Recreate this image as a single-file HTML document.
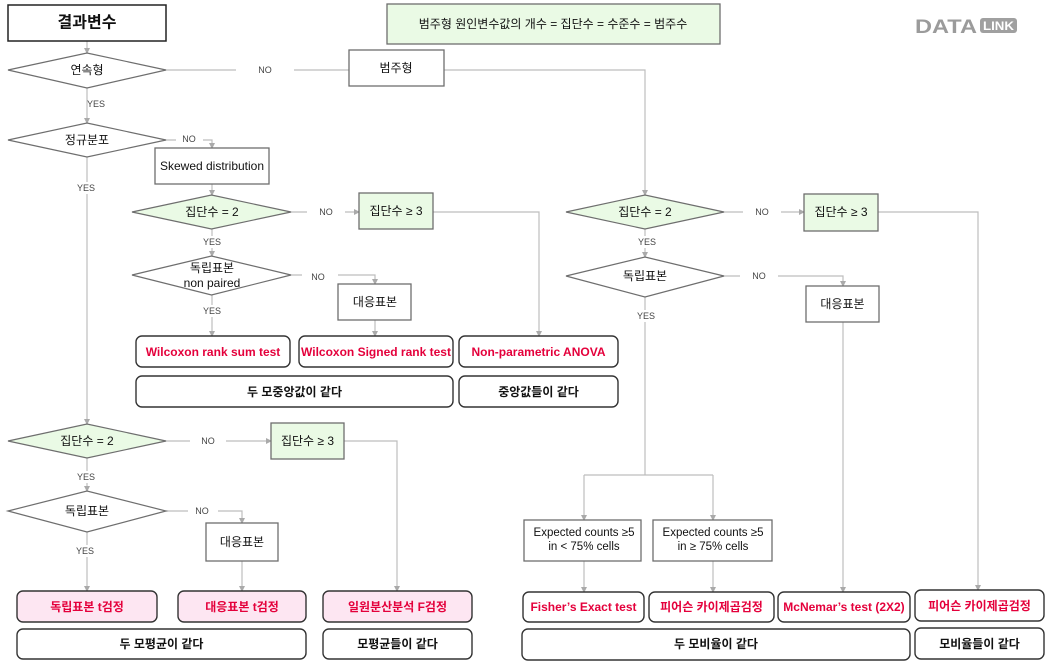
<!DOCTYPE html>
<html><head><meta charset="utf-8">
<style>
html,body{margin:0;padding:0;background:#fff;}
svg{display:block;}
text{font-family:"Liberation Sans","Noto Sans CJK KR",sans-serif;}
.n{font-size:12px;fill:#111;text-anchor:middle;dominant-baseline:central;}
.lbl{font-size:9px;fill:#444;text-anchor:middle;dominant-baseline:central;}
.r{font-size:12px;fill:#e4003b;font-weight:bold;text-anchor:middle;dominant-baseline:central;}
.b{font-size:12px;fill:#111;font-weight:bold;text-anchor:middle;dominant-baseline:central;}
.ln{stroke:#bdbdbd;stroke-width:1.2;fill:none;}
.bx{fill:#fff;stroke:#6e6e6e;stroke-width:1.3;}
.gb{fill:#eafae5;stroke:#6e6e6e;stroke-width:1.3;}
.dm{fill:#fff;stroke:#6e6e6e;stroke-width:1.2;}
.dg{fill:#eafae5;stroke:#6e6e6e;stroke-width:1.2;}
.rb{fill:#fff;stroke:#333;stroke-width:1.4;}
.pb{fill:#fde6f2;stroke:#333;stroke-width:1.4;}
.ah{fill:#aaa;}
.wb{fill:#fff;}
</style></head>
<body>
<svg width="1048" height="665" viewBox="0 0 1048 665" xmlns="http://www.w3.org/2000/svg">
<defs>
<marker id="a" markerWidth="6" markerHeight="6" refX="5" refY="3" orient="auto" markerUnits="userSpaceOnUse">
<path d="M0,0 L6,3 L0,6 z" fill="#aaa"/>
</marker>
</defs>

<!-- connectors -->
<g class="ln">
<path d="M87,41 V53" marker-end="url(#a)"/>
<path d="M166,70 H349"/>
<path d="M87,88 V123" marker-end="url(#a)"/>
<path d="M166,140 H212 V148" marker-end="url(#a)"/>
<path d="M87,157 V424" marker-end="url(#a)"/>
<path d="M212,184 V195" marker-end="url(#a)"/>
<path d="M291,212 H359" marker-end="url(#a)"/>
<path d="M433,212 H539 V336" marker-end="url(#a)"/>
<path d="M212,229 V256" marker-end="url(#a)"/>
<path d="M291,275 H375 V284" marker-end="url(#a)"/>
<path d="M212,295 V336" marker-end="url(#a)"/>
<path d="M375,320 V336" marker-end="url(#a)"/>

<path d="M444,70 H645 V195" marker-end="url(#a)"/>
<path d="M724,212 H804" marker-end="url(#a)"/>
<path d="M878,212 H978 V590" marker-end="url(#a)"/>
<path d="M645,229 V257" marker-end="url(#a)"/>
<path d="M724,276 H843 V286" marker-end="url(#a)"/>
<path d="M645,297 V475"/>
<path d="M584,475 H713"/>
<path d="M584,475 V520" marker-end="url(#a)"/>
<path d="M713,475 V520" marker-end="url(#a)"/>
<path d="M584,561 V592" marker-end="url(#a)"/>
<path d="M713,561 V592" marker-end="url(#a)"/>
<path d="M843,322 V592" marker-end="url(#a)"/>

<path d="M166,441 H271" marker-end="url(#a)"/>
<path d="M344,441 H397 V591" marker-end="url(#a)"/>
<path d="M87,458 V491" marker-end="url(#a)"/>
<path d="M166,511 H242 V523" marker-end="url(#a)"/>
<path d="M87,532 V591" marker-end="url(#a)"/>
<path d="M242,561 V591" marker-end="url(#a)"/>
</g>

<!-- connector labels -->
<rect class="wb" x="236" y="63" width="58" height="14"/><text class="lbl" x="265" y="70">NO</text>
<text class="lbl" x="96" y="104">YES</text>
<rect class="wb" x="176" y="133" width="27" height="13"/><text class="lbl" x="189" y="139">NO</text>
<rect class="wb" x="76" y="182" width="20" height="12"/><text class="lbl" x="86" y="188">YES</text>
<rect class="wb" x="307" y="206" width="38" height="13"/><text class="lbl" x="326" y="212">NO</text>
<rect class="wb" x="201" y="236" width="22" height="12"/><text class="lbl" x="212" y="242">YES</text>
<rect class="wb" x="302" y="269" width="36" height="13"/><text class="lbl" x="318" y="277">NO</text>
<rect class="wb" x="201" y="305" width="22" height="12"/><text class="lbl" x="212" y="311">YES</text>

<rect class="wb" x="743" y="206" width="38" height="13"/><text class="lbl" x="762" y="212">NO</text>
<rect class="wb" x="636" y="236" width="22" height="12"/><text class="lbl" x="647" y="242">YES</text>
<rect class="wb" x="740" y="270" width="38" height="13"/><text class="lbl" x="759" y="276">NO</text>
<rect class="wb" x="635" y="310" width="22" height="12"/><text class="lbl" x="646" y="316">YES</text>

<rect class="wb" x="190" y="435" width="36" height="13"/><text class="lbl" x="208" y="441">NO</text>
<rect class="wb" x="76" y="471" width="22" height="12"/><text class="lbl" x="86" y="477">YES</text>
<rect class="wb" x="188" y="505" width="30" height="13"/><text class="lbl" x="202" y="511">NO</text>
<rect class="wb" x="75" y="545" width="22" height="12"/><text class="lbl" x="85" y="551">YES</text>

<!-- top -->
<rect x="8" y="5" width="158" height="36" fill="#fff" stroke="#222" stroke-width="1.5"/>
<text class="b" x="87" y="23" style="font-size:16px">결과변수</text>

<rect class="gb" x="387" y="4" width="333" height="40"/>
<text class="n" x="553" y="24">범주형 원인변수값의 개수 = 집단수 = 수준수 = 범주수</text>

<!-- logo -->
<text x="915" y="33" textLength="62" lengthAdjust="spacingAndGlyphs" style="font-size:19px;fill:#9b9b9b;font-weight:bold;">DATA</text>
<rect x="980" y="18" width="37" height="15" rx="3" fill="#a0a0a0"/>
<text x="998.5" y="26" textLength="31" lengthAdjust="spacingAndGlyphs" style="font-size:12px;fill:#fff;font-weight:bold;text-anchor:middle;dominant-baseline:central;">LINK</text>

<polygon class="dm" points="8,70 87,53 166,70 87,88"/>
<text class="n" x="87" y="70">연속형</text>

<rect class="bx" x="349" y="50" width="95" height="36"/>
<text class="n" x="396" y="68">범주형</text>

<polygon class="dm" points="8,140 87,123 166,140 87,157"/>
<text class="n" x="87" y="140">정규분포</text>

<rect class="bx" x="155" y="148" width="114" height="36"/>
<text class="n" x="212" y="166">Skewed distribution</text>

<!-- middle-left nonparametric -->
<polygon class="dg" points="132,212 211.5,195 291,212 211.5,229"/>
<text class="n" x="212" y="212">집단수 = 2</text>

<rect class="gb" x="359" y="193" width="74" height="36"/>
<text class="n" x="396" y="211">집단수 ≥ 3</text>

<polygon class="dm" points="132,275 211.5,256 291,275 211.5,295"/>
<text class="n" x="212" y="268">독립표본</text>
<text class="n" x="212" y="283">non paired</text>

<rect class="bx" x="338" y="284" width="73" height="36"/>
<text class="n" x="375" y="302">대응표본</text>

<rect class="rb" x="136" y="336" width="154" height="31" rx="6"/>
<text class="r" x="213" y="352">Wilcoxon rank sum test</text>
<rect class="rb" x="299" y="336" width="154" height="31" rx="6"/>
<text class="r" x="376" y="352">Wilcoxon Signed rank test</text>
<rect class="rb" x="459" y="336" width="159" height="31" rx="6"/>
<text class="r" x="538.5" y="352">Non-parametric ANOVA</text>

<rect class="rb" x="136" y="376" width="317" height="31" rx="6"/>
<text class="b" x="294.5" y="392">두 모중앙값이 같다</text>
<rect class="rb" x="459" y="376" width="159" height="31" rx="6"/>
<text class="b" x="538.5" y="392">중앙값들이 같다</text>

<!-- lower-left parametric -->
<polygon class="dg" points="8,441 87,424 166,441 87,458"/>
<text class="n" x="87" y="441">집단수 = 2</text>

<rect class="gb" x="271" y="423" width="73" height="36"/>
<text class="n" x="307.5" y="441">집단수 ≥ 3</text>

<polygon class="dm" points="8,511 87,491 166,511 87,532"/>
<text class="n" x="87" y="511">독립표본</text>

<rect class="bx" x="206" y="523" width="72" height="38"/>
<text class="n" x="242" y="542">대응표본</text>

<rect class="pb" x="17" y="591" width="140" height="31" rx="6"/>
<text class="r" x="87" y="607">독립표본 t검정</text>
<rect class="pb" x="178" y="591" width="128" height="31" rx="6"/>
<text class="r" x="242" y="607">대응표본 t검정</text>
<rect class="pb" x="323" y="591" width="149" height="31" rx="6"/>
<text class="r" x="397.5" y="607">일원분산분석 F검정</text>

<rect class="rb" x="17" y="629" width="289" height="30" rx="6"/>
<text class="b" x="161.5" y="644">두 모평균이 같다</text>
<rect class="rb" x="323" y="629" width="149" height="30" rx="6"/>
<text class="b" x="397.5" y="644">모평균들이 같다</text>

<!-- right categorical -->
<polygon class="dg" points="566,212 645,195 724,212 645,229"/>
<text class="n" x="645" y="212">집단수 = 2</text>

<rect class="gb" x="804" y="194" width="74" height="37"/>
<text class="n" x="841" y="212">집단수 ≥ 3</text>

<polygon class="dm" points="566,276 645,257 724,276 645,297"/>
<text class="n" x="645" y="276">독립표본</text>

<rect class="bx" x="806" y="286" width="73" height="36"/>
<text class="n" x="842.5" y="304">대응표본</text>

<rect class="bx" x="524" y="520" width="117" height="41"/>
<text class="n" x="584" y="533" style="font-size:11.5px">Expected counts ≥5</text>
<text class="n" x="584" y="547" style="font-size:11.5px">in &lt; 75% cells</text>
<rect class="bx" x="653" y="520" width="119" height="41"/>
<text class="n" x="713" y="533" style="font-size:11.5px">Expected counts ≥5</text>
<text class="n" x="713" y="547" style="font-size:11.5px">in ≥ 75% cells</text>

<rect class="rb" x="523" y="592" width="121" height="30" rx="6"/>
<text class="r" x="583.5" y="607">Fisher’s Exact test</text>
<rect class="rb" x="649" y="592" width="125" height="30" rx="6"/>
<text class="r" x="711.5" y="607">피어슨 카이제곱검정</text>
<rect class="rb" x="778" y="592" width="132" height="30" rx="6"/>
<text class="r" x="844" y="607">McNemar’s test (2X2)</text>
<rect class="rb" x="915" y="590" width="129" height="31" rx="6"/>
<text class="r" x="979.5" y="606">피어슨 카이제곱검정</text>

<rect class="rb" x="522" y="629" width="388" height="31" rx="6"/>
<text class="b" x="716" y="644">두 모비율이 같다</text>
<rect class="rb" x="915" y="628" width="129" height="31" rx="6"/>
<text class="b" x="979.5" y="644">모비율들이 같다</text>
</svg>
</body></html>
